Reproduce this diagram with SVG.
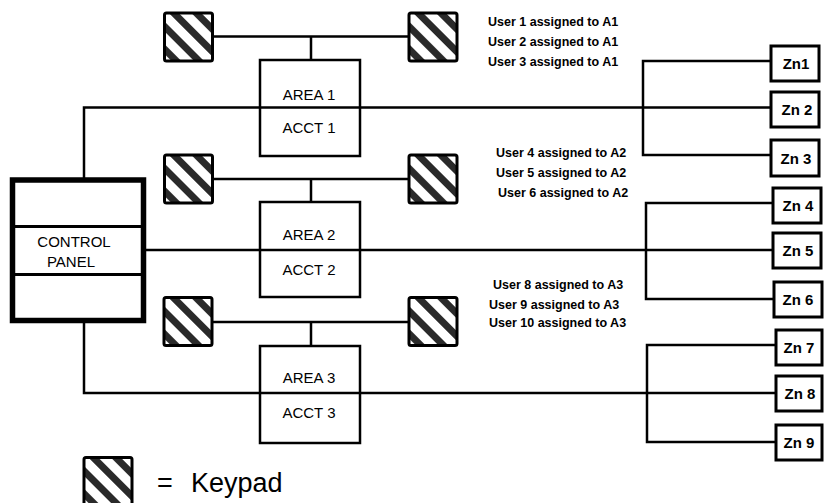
<svg xmlns="http://www.w3.org/2000/svg" width="824" height="503" viewBox="0 0 824 503">
<style>
  .ln{fill:none;stroke:#000;stroke-width:2.5;stroke-linecap:square}
  .box{fill:#fff;stroke:#000;stroke-width:2.5}
  .zn{fill:#fff;stroke:#000;stroke-width:3}
  .kp{fill:url(#hatch);stroke:#000;stroke-width:3}
  .t{font-family:"Liberation Sans",Arial,sans-serif;font-size:15px;fill:#000;text-anchor:middle}
  .zt{font-family:"Liberation Sans",Arial,sans-serif;font-size:15px;font-weight:bold;fill:#000;text-anchor:middle}
  .u{font-family:"Liberation Sans",Arial,sans-serif;font-size:12.5px;font-weight:bold;fill:#000}
  .lg{font-family:"Liberation Sans",Arial,sans-serif;font-size:27px;fill:#000}
</style>
<defs>
  <pattern id="hatch" patternUnits="userSpaceOnUse" width="16" height="16" patternTransform="rotate(-45) translate(3,0)">
    <rect x="0" y="0" width="16" height="16" fill="#fff"/>
    <rect x="0" y="0" width="7" height="16" fill="#2a2a2a"/>
  </pattern>
  <rect id="keypad" x="0" y="0" width="48" height="48" rx="2" class="kp"/>
</defs>
<rect width="824" height="503" fill="#fff"/>

<g id="connectors" class="ln">
  <path d="M84,180 V107.5 H771"/>
  <path d="M643,61 V155 M643,61 H771 M643,155 H771"/>
  <path d="M212,36.5 H408 M311,36.5 V60"/>
  <path d="M146,250 H773"/>
  <path d="M646,203 V299 M646,203 H773 M646,299 H774"/>
  <path d="M212,179 H408 M311,179 V202"/>
  <path d="M84,320 V393 H776"/>
  <path d="M647,345 V442 M647,345 H776 M647,442 H776"/>
  <path d="M212,322 H408 M311,322 V346"/>
</g>

<g id="control-panel">
  <rect x="12.5" y="180" width="131" height="140.5" fill="#fff" stroke="#000" stroke-width="5.5"/>
  <line x1="15" y1="226.5" x2="141" y2="226.5" stroke="#000" stroke-width="3"/>
  <line x1="15" y1="274.5" x2="141" y2="274.5" stroke="#000" stroke-width="3"/>
  <text class="t" x="74" y="247">CONTROL</text>
  <text class="t" x="71" y="267">PANEL</text>
</g>

<g id="area1">
  <rect class="box" x="260" y="60" width="100" height="96"/>
  <line x1="260" y1="107.5" x2="360" y2="107.5" stroke="#000" stroke-width="2.5"/>
  <text class="t" x="309" y="100">AREA 1</text>
  <text class="t" x="309" y="133">ACCT 1</text>
</g>
<g id="area2">
  <rect class="box" x="260" y="202" width="100" height="95"/>
  <line x1="260" y1="250" x2="360" y2="250" stroke="#000" stroke-width="2.5"/>
  <text class="t" x="309" y="240">AREA 2</text>
  <text class="t" x="309" y="275">ACCT 2</text>
</g>
<g id="area3">
  <rect class="box" x="260" y="346" width="100" height="97"/>
  <line x1="260" y1="393" x2="360" y2="393" stroke="#000" stroke-width="2.5"/>
  <text class="t" x="309" y="383">AREA 3</text>
  <text class="t" x="309" y="418">ACCT 3</text>
</g>

<g id="keypad-1a" transform="translate(164.5,13)"><use href="#keypad"/></g>
<g id="keypad-1b" transform="translate(409,13)"><use href="#keypad"/></g>
<g id="keypad-2a" transform="translate(164.5,155)"><use href="#keypad"/></g>
<g id="keypad-2b" transform="translate(409,155)"><use href="#keypad"/></g>
<g id="keypad-3a" transform="translate(164,297.5)"><use href="#keypad"/></g>
<g id="keypad-3b" transform="translate(409,297.5)"><use href="#keypad"/></g>

<g id="zn1"><rect class="zn" x="771" y="46" width="48" height="35"/><text class="zt" x="796" y="68.5">Zn1</text></g>
<g id="zn2"><rect class="zn" x="771" y="92" width="48" height="35"/><text class="zt" x="797" y="115">Zn 2</text></g>
<g id="zn3"><rect class="zn" x="771" y="140" width="48" height="36"/><text class="zt" x="796" y="164">Zn 3</text></g>
<g id="zn4"><rect class="zn" x="773" y="188" width="48" height="35"/><text class="zt" x="798" y="211">Zn 4</text></g>
<g id="zn5"><rect class="zn" x="773" y="233" width="48" height="35"/><text class="zt" x="798" y="256">Zn 5</text></g>
<g id="zn6"><rect class="zn" x="774" y="282" width="48" height="35"/><text class="zt" x="798" y="305">Zn 6</text></g>
<g id="zn7"><rect class="zn" x="776" y="330" width="46" height="35"/><text class="zt" x="799" y="353">Zn 7</text></g>
<g id="zn8"><rect class="zn" x="776" y="376" width="46" height="35"/><text class="zt" x="800" y="399">Zn 8</text></g>
<g id="zn9"><rect class="zn" x="776" y="425" width="46" height="35"/><text class="zt" x="799" y="448">Zn 9</text></g>

<g id="users-a1">
  <text class="u" x="488" y="25.5">User 1 assigned to A1</text>
  <text class="u" x="488" y="45.5">User 2 assigned to A1</text>
  <text class="u" x="488" y="65.5">User 3 assigned to A1</text>
</g>
<g id="users-a2">
  <text class="u" x="496" y="157">User 4 assigned to A2</text>
  <text class="u" x="496" y="177">User 5 assigned to A2</text>
  <text class="u" x="498" y="197">User 6 assigned to A2</text>
</g>
<g id="users-a3">
  <text class="u" x="493" y="289">User 8 assigned to A3</text>
  <text class="u" x="489" y="309">User 9 assigned to A3</text>
  <text class="u" x="489" y="326.5">User 10 assigned to A3</text>
</g>

<g id="legend">
  <g transform="translate(84,457.5)"><rect x="0" y="0" width="48" height="52" rx="2" class="kp"/></g>
  <text class="lg" x="157" y="492">=</text>
  <text class="lg" x="191" y="492">Keypad</text>
</g>
</svg>
